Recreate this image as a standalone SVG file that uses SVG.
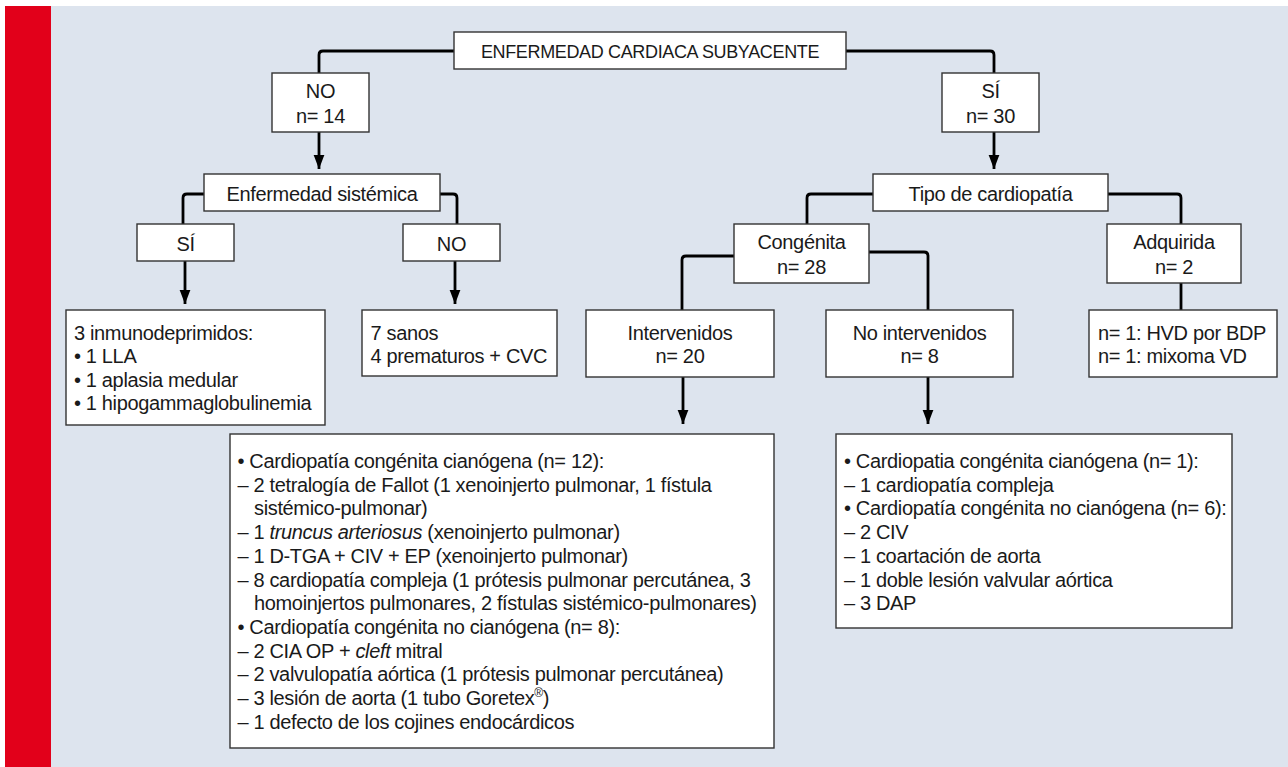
<svg xmlns="http://www.w3.org/2000/svg" width="1288" height="767" viewBox="0 0 1288 767">
<style>
.box{fill:#fff;stroke:#333;stroke-width:1.4}
.t{font-family:"Liberation Sans",Arial,sans-serif;font-size:20px;letter-spacing:-0.35px;fill:#1a1a1a}
.c{text-anchor:middle}
.title{font-size:18px}
.conn{fill:none;stroke:#000;stroke-width:2.8;stroke-linejoin:round;stroke-linecap:butt}
.it{font-style:italic}
</style>
<defs>
<marker id="arr" markerUnits="userSpaceOnUse" markerWidth="14" markerHeight="18" refX="17" refY="6.5" orient="auto" viewBox="0 0 17 13">
<path d="M0,0 L17,6.5 L0,13 z" fill="#000"/>
</marker>
</defs>
<rect x="0" y="0" width="1288" height="767" fill="#fff"/>
<rect x="51" y="6" width="1237" height="761" fill="#dde4ee"/>
<rect x="5" y="6" width="46" height="761" fill="#e2001a"/>

<g id="connectors">
<path class="conn" d="M454,51 H323 Q319,51 319,55 V73"/>
<path class="conn" d="M846,51 H990 Q994,51 994,55 V73"/>
<path class="conn" d="M204,194 H187 Q183,194 183,198 V224"/>
<path class="conn" d="M440,194 H453 Q457,194 457,198 V224"/>
<path class="conn" d="M873,194 H811 Q807,194 807,198 V224"/>
<path class="conn" d="M1108,194 H1177 Q1181,194 1181,198 V224"/>
<path class="conn" d="M734,256 H686 Q682,256 682,260 V310"/>
<path class="conn" d="M869,252 H924 Q928,252 928,256 V310"/>
<path class="conn" d="M1181,283 V310"/>
<path class="conn" d="M319,132 V169" marker-end="url(#arr)"/>
<path class="conn" d="M994,132 V169" marker-end="url(#arr)"/>
<path class="conn" d="M185,261 V304" marker-end="url(#arr)"/>
<path class="conn" d="M455,261 V304" marker-end="url(#arr)"/>
<path class="conn" d="M683,377 V424" marker-end="url(#arr)"/>
<path class="conn" d="M928,377 V424" marker-end="url(#arr)"/>
</g>

<g id="n-top">
<rect class="box" x="454" y="32" width="392" height="37"/>
<text class="t c title" x="650" y="57.5">ENFERMEDAD CARDIACA SUBYACENTE</text>
</g>
<g id="n-no">
<rect class="box" x="272" y="73" width="97" height="59"/>
<text class="t c" x="320.5" y="98">NO</text>
<text class="t c" x="320.5" y="123">n= 14</text>
</g>
<g id="n-si">
<rect class="box" x="942" y="73" width="97" height="59"/>
<text class="t c" x="990.5" y="98">SÍ</text>
<text class="t c" x="990.5" y="123">n= 30</text>
</g>
<g id="n-sistemica">
<rect class="box" x="204" y="174" width="236" height="37"/>
<text class="t c" x="322" y="201">Enfermedad sistémica</text>
</g>
<g id="n-tipo">
<rect class="box" x="873" y="174" width="235" height="37"/>
<text class="t c" x="990.5" y="201">Tipo de cardiopatía</text>
</g>
<g id="n-sis-si">
<rect class="box" x="137" y="224" width="97" height="37"/>
<text class="t c" x="185.5" y="250.5">SÍ</text>
</g>
<g id="n-sis-no">
<rect class="box" x="403" y="224" width="97" height="37"/>
<text class="t c" x="451.5" y="250.5">NO</text>
</g>
<g id="n-congenita">
<rect class="box" x="734" y="224" width="135" height="59"/>
<text class="t c" x="801.5" y="249">Congénita</text>
<text class="t c" x="801.5" y="274">n= 28</text>
</g>
<g id="n-adquirida">
<rect class="box" x="1107" y="224" width="134" height="59"/>
<text class="t c" x="1174" y="249">Adquirida</text>
<text class="t c" x="1174" y="274">n= 2</text>
</g>
<g id="n-inmuno">
<rect class="box" x="66" y="310" width="259" height="115"/>
<text class="t" x="74" y="339.5">3 inmunodeprimidos:</text>
<text class="t" x="74" y="363.1">• 1 LLA</text>
<text class="t" x="74" y="386.7">• 1 aplasia medular</text>
<text class="t" x="74" y="410.3">• 1 hipogammaglobulinemia</text>
</g>
<g id="n-sanos">
<rect class="box" x="362" y="310" width="195" height="66"/>
<text class="t" x="370.5" y="339.5">7 sanos</text>
<text class="t" x="370.5" y="363.3">4 prematuros + CVC</text>
</g>
<g id="n-intervenidos">
<rect class="box" x="586" y="310" width="188" height="67"/>
<text class="t c" x="680" y="339.5">Intervenidos</text>
<text class="t c" x="680" y="363.3">n= 20</text>
</g>
<g id="n-nointervenidos">
<rect class="box" x="826" y="310" width="187" height="67"/>
<text class="t c" x="919.5" y="339.5">No intervenidos</text>
<text class="t c" x="919.5" y="363.3">n= 8</text>
</g>
<g id="n-adq-res">
<rect class="box" x="1089" y="310" width="188" height="67"/>
<text class="t" x="1098" y="339.5">n= 1: HVD por BDP</text>
<text class="t" x="1098" y="363.3">n= 1: mixoma VD</text>
</g>
<g id="n-interv-detail">
<rect class="box" x="230" y="434" width="544" height="314"/>
<text class="t" x="237.5" y="468">• Cardiopatía congénita cianógena (n= 12):</text>
<text class="t" x="237.5" y="491.7">– 2 tetralogía de Fallot (1 xenoinjerto pulmonar, 1 fístula</text>
<text class="t" x="254" y="515.4">sistémico-pulmonar)</text>
<text class="t" x="237.5" y="539.1">– 1 <tspan class="it">truncus arteriosus</tspan> (xenoinjerto pulmonar)</text>
<text class="t" x="237.5" y="562.8">– 1 D-TGA + CIV + EP (xenoinjerto pulmonar)</text>
<text class="t" x="237.5" y="586.5">– 8 cardiopatía compleja (1 prótesis pulmonar percutánea, 3</text>
<text class="t" x="254" y="610.2">homoinjertos pulmonares, 2 fístulas sistémico-pulmonares)</text>
<text class="t" x="237.5" y="633.9">• Cardiopatía congénita no cianógena (n= 8):</text>
<text class="t" x="237.5" y="657.6">– 2 CIA OP + <tspan class="it">cleft</tspan> mitral</text>
<text class="t" x="237.5" y="681.3">– 2 valvulopatía aórtica (1 prótesis pulmonar percutánea)</text>
<text class="t" x="237.5" y="705">– 3 lesión de aorta (1 tubo Goretex<tspan font-size="12" dy="-8">®</tspan><tspan dy="8">)</tspan></text>
<text class="t" x="237.5" y="728.7">– 1 defecto de los cojines endocárdicos</text>
</g>
<g id="n-nointerv-detail">
<rect class="box" x="836" y="434" width="396" height="194"/>
<text class="t" x="844" y="468">• Cardiopatia congénita cianógena (n= 1):</text>
<text class="t" x="844" y="491.7">– 1 cardiopatía compleja</text>
<text class="t" x="844" y="515.4">• Cardiopatía congénita no cianógena (n= 6):</text>
<text class="t" x="844" y="539.1">– 2 CIV</text>
<text class="t" x="844" y="562.8">– 1 coartación de aorta</text>
<text class="t" x="844" y="586.5">– 1 doble lesión valvular aórtica</text>
<text class="t" x="844" y="610.2">– 3 DAP</text>
</g>
</svg>
